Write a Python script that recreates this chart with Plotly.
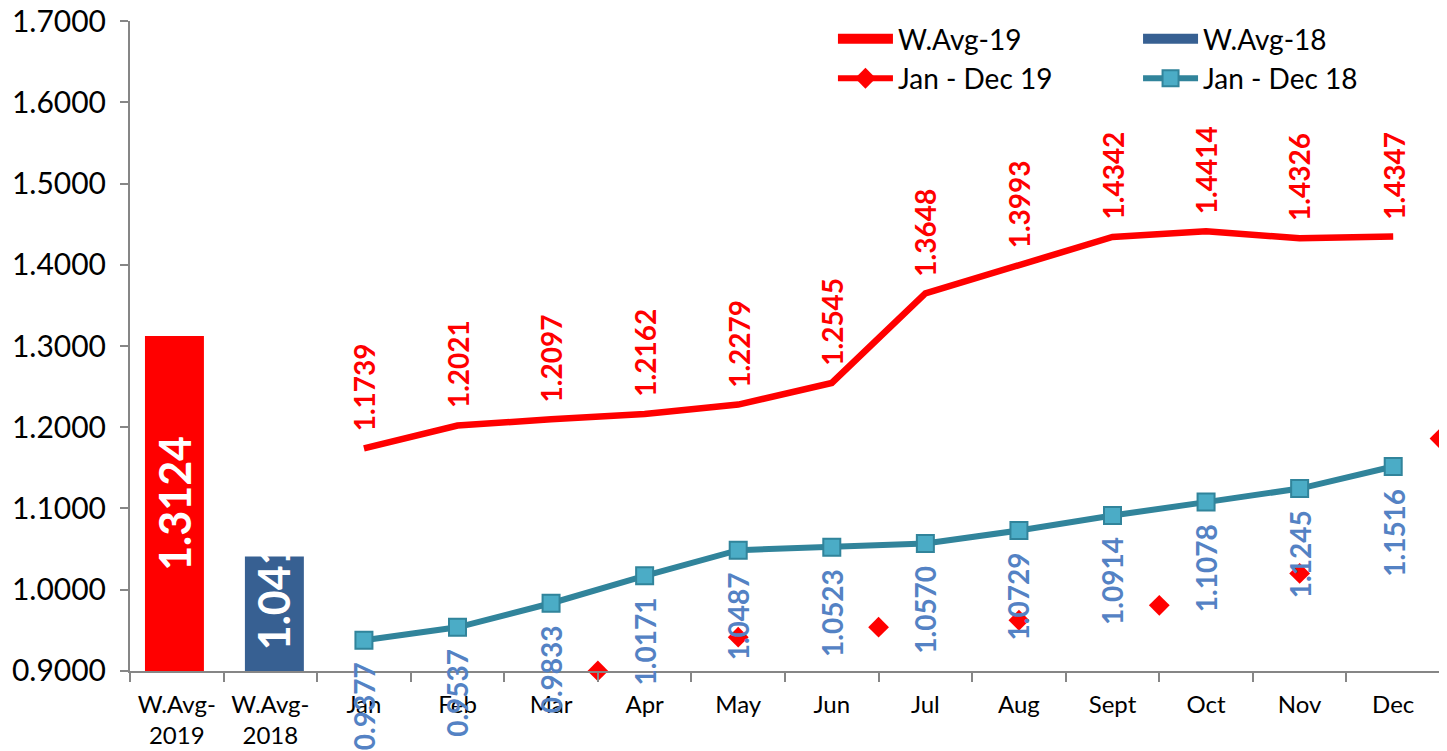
import plotly.graph_objects as go

categories = ["W.Avg-<br>2019", "W.Avg-<br>2018", "Jan", "Feb", "Mar", "Apr", "May", "Jun",
              "Jul", "Aug", "Sept", "Oct", "Nov", "Dec"]
avg_names = ["W.Avg-19", "W.Avg-18"]
avg_values = [1.3124, 1.041]
avg_labels = ["1.3124", "1.041"]
jan_dec_19 = [1.1739, 1.2021, 1.2097, 1.2162, 1.2279, 1.2545, 1.3648, 1.3993, 1.4342, 1.4414, 1.4326, 1.4347]
jan_dec_18 = [0.9377, 0.9537, 0.9833, 1.0171, 1.0487, 1.0523, 1.0570, 1.0729, 1.0914, 1.1078, 1.1245, 1.1516]
# stray diamond markers visible in the picture (x in category units, y values)
stray_x = [4.5, 6, 7.5, 9, 10.5, 12, 13.5]
stray_y = [0.900, 0.9416, 0.9538, 0.9624, 0.9807, 1.020, 1.186]
y_ticks = [0.9, 1.0, 1.1, 1.2, 1.3, 1.4, 1.5, 1.6, 1.7]

RED = "#FF0000"
BLUE = "#376092"
TEAL = "#31849B"
TEAL_FILL = "#4BACC6"
LBL_BLUE = "#5482C4"
GRAY = "#868686"
FONT = "Lato"

idx = list(range(len(categories)))
month_idx = idx[2:]

fig = go.Figure()

fig.add_trace(go.Bar(x=[idx[0]], y=[avg_values[0] - 0.9], base=0.9, width=0.63, offset=-0.34,
                     marker=dict(color=RED, line=dict(width=0)), showlegend=False,
                     hoverinfo="skip"))
fig.add_trace(go.Bar(x=[idx[1]], y=[avg_values[1] - 0.9], base=0.9, width=0.63, offset=-0.272,
                     marker=dict(color=BLUE, line=dict(width=0)), showlegend=False,
                     hoverinfo="skip"))

fig.add_trace(go.Scatter(x=month_idx, y=jan_dec_19, mode="lines",
                         line=dict(color=RED, width=6.5), showlegend=False))
fig.add_trace(go.Scatter(x=month_idx, y=jan_dec_18, mode="lines+markers",
                         line=dict(color=TEAL, width=6),
                         marker=dict(symbol="square", size=17, color=TEAL_FILL,
                                     line=dict(color=TEAL, width=2)),
                         name="Jan - Dec 18", legend="legend2", legendrank=2))
fig.add_trace(go.Scatter(x=stray_x, y=stray_y, mode="markers",
                         marker=dict(symbol="diamond", size=16, color=RED),
                         cliponaxis=False, showlegend=False))

# legend-only entries
fig.add_trace(go.Scatter(x=[None], y=[None], mode="lines", name=avg_names[0],
                         line=dict(color=RED, width=17), legend="legend", legendrank=1))
fig.add_trace(go.Scatter(x=[None], y=[None], mode="lines+markers", name="Jan - Dec 19",
                         line=dict(color=RED, width=6),
                         marker=dict(symbol="diamond", size=16, color=RED),
                         legend="legend", legendrank=2))
fig.add_trace(go.Scatter(x=[None], y=[None], mode="lines", name=avg_names[1],
                         line=dict(color=BLUE, width=17), legend="legend2", legendrank=1))

annotations = []
# bar labels
annotations.append(dict(x=idx[0] - 0.025, y=(0.9 + avg_values[0]) / 2, text=avg_labels[0],
                        textangle=-90, showarrow=False, xanchor="center", yanchor="middle",
                        font=dict(family=FONT, size=43, color="white", weight="bold")))
annotations.append(dict(x=idx[1] + 0.043, y=0.9, yshift=19, text=avg_labels[1],
                        textangle=-90, showarrow=False, xanchor="center", yanchor="bottom",
                        font=dict(family=FONT, size=43, color="white", weight="bold")))
for xi, v in zip(month_idx, jan_dec_19):
    annotations.append(dict(x=xi, y=v, yshift=15, text=f"{v:.4f}", textangle=-90,
                            showarrow=False, xanchor="center", yanchor="bottom",
                            font=dict(family=FONT, size=28, color=RED, weight="bold")))
for xi, v in zip(month_idx, jan_dec_18):
    annotations.append(dict(x=xi, y=v, yshift=-20, text=f"{v:.4f}", textangle=-90,
                            showarrow=False, xanchor="center", yanchor="top",
                            font=dict(family=FONT, size=28, color=LBL_BLUE, weight="bold")))

fig.update_layout(
    width=1439, height=743,
    margin=dict(l=122, r=7, t=12, b=80),
    paper_bgcolor="white", plot_bgcolor="white",
    font=dict(family=FONT, color="black"),
    annotations=annotations,
    legend=dict(x=0.5366, y=1.009, xanchor="left", yanchor="top", orientation="v",
                font=dict(family=FONT, size=28, color="black"), itemwidth=55,
                bgcolor="rgba(0,0,0,0)", tracegroupgap=0),
    legend2=dict(x=0.7695, y=1.009, xanchor="left", yanchor="top", orientation="v",
                 font=dict(family=FONT, size=28, color="black"), itemwidth=55,
                 bgcolor="rgba(0,0,0,0)", tracegroupgap=0),
    xaxis=dict(range=[-0.5, 13.5], tickmode="array", tickvals=idx, ticktext=categories,
               ticks="", showgrid=False, zeroline=False, showline=True, ticklabelstandoff=11,
               automargin=False, ticklabeloverflow="allow",
               linecolor=GRAY, linewidth=2, tickfont=dict(family=FONT, size=24, color="black"),
               minor=dict(ticks="outside", tickmode="linear", tick0=0.5, dtick=1,
                          ticklen=9, tickcolor=GRAY, tickwidth=2, showgrid=False)),
    yaxis=dict(range=[0.8999, 1.7001], tickmode="array", tickvals=y_ticks,
               ticktext=[f"{t:.4f}" for t in y_ticks], ticks="outside", ticklen=8,
               tickcolor=GRAY, tickwidth=2, showgrid=False, zeroline=False,
               showline=True, linecolor=GRAY, linewidth=2, ticklabelstandoff=8,
               automargin=False, ticklabeloverflow="allow",
               tickfont=dict(family=FONT, size=30, color="black")),
)

fig.write_html("out.html")
